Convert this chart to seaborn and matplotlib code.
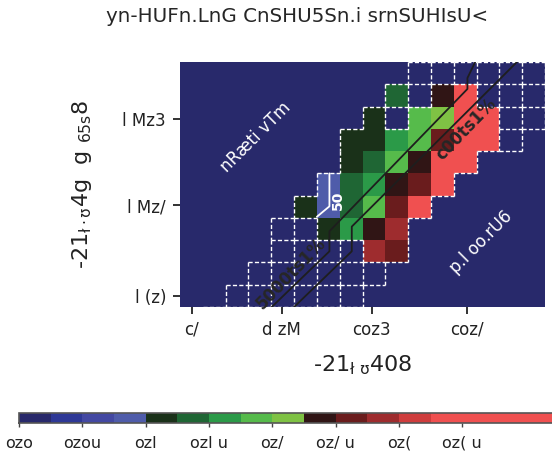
import numpy as np
import pandas as pd
import matplotlib
matplotlib.use("Agg")
import matplotlib.pyplot as plt
import seaborn as sns
from matplotlib.colors import ListedColormap
from matplotlib.collections import LineCollection

sns.set_theme(style="white")
plt.rcParams['font.family'] = ['DejaVu Sans']

# ---------------- texts ----------------
title = "yn-HUFn.LnG CnSHU5Sn.i srnSUHIsU<"
x_label = r"-21$_{\mathrm{ł\ ʊ}}$408"
y_label = r"-21$_{\mathrm{ł\cdotʊ}}$4g  g $_{\mathrm{65s}}$8"
x_tick_labels = ["c/", "d zM", "coz3", "coz/"]
x_tick_pos = [0.51, 4.46, 8.40, 12.56]
y_tick_labels = ["l Mz3", "l Mz/", "l (z)"]
y_tick_pos = [2.54, 6.43, 10.52]
cbar_tick_values = [0.0, 0.05, 0.10, 0.15, 0.20, 0.25, 0.30, 0.35]
cbar_tick_labels = ["ozo", "ozou", "ozl", "ozl u", "oz/", "oz/ u", "oz(", "oz( u"]
region_labels = ["nRæti vTm", "p.l oo.rU6"]
region_label_x = [3.33, 13.2]
region_label_y = [3.36, 8.07]
contour_labels = ["5000ts1%", "c00ts1%"]
contour_label_x = [4.87, 12.54]
contour_label_y = [9.5, 3.0]
white_label = "50"
white_label_x = 6.93
white_label_y = 6.23

# ---------------- colour levels (bins of 0.025) ----------------
level_colors = ["#28296b", "#2e3896", "#4348a2", "#4f5caa",
                "#1a3119", "#1f6634", "#2b9a48", "#56bb4b", "#7fc244",
                "#301515", "#6a1c1d", "#9e2c2e", "#cf3d3d", "#f05050",
                "#f05050", "#f05050", "#f05050", "#f05050"]

# ---------------- cell values (rows top->bottom, 16 columns) ----------------
D = 0.01  # navy cells inside the outlined region
cell_values = [
    [0, 0, 0, 0, 0, 0, 0, 0, 0, 0, D, D, D, D, D, D],
    [0, 0, 0, 0, 0, 0, 0, 0, 0, 0.14, D, 0.24, 0.36, D, D, D],
    [0, 0, 0, 0, 0, 0, 0, 0, 0.11, D, 0.19, 0.21, 0.36, 0.34, D, D],
    [0, 0, 0, 0, 0, 0, 0, 0.11, 0.11, 0.16, 0.19, 0.26, 0.35, 0.37, D, 0],
    [0, 0, 0, 0, 0, 0, 0, 0.11, 0.14, 0.19, 0.24, 0.35, 0.34, 0, 0, 0],
    [0, 0, 0, 0, 0, 0, 0.09, 0.14, 0.16, 0.24, 0.26, 0.36, 0, 0, 0, 0],
    [0, 0, 0, 0, 0, 0.11, 0.09, 0.14, 0.19, 0.26, 0.34, 0, 0, 0, 0, 0],
    [0, 0, 0, 0, D, D, 0.11, 0.16, 0.24, 0.29, 0, 0, 0, 0, 0, 0],
    [0, 0, 0, 0, D, D, D, D, 0.29, 0.26, 0, 0, 0, 0, 0, 0],
    [0, 0, 0, D, D, D, D, D, D, 0, 0, 0, 0, 0, 0, 0],
    [0, 0, D, D, D, D, D, D, 0, 0, 0, 0, 0, 0, 0, 0],
    [0, D, D, D, D, D, D, D, 0, 0, 0, 0, 0, 0, 0, 0],
]
dashed_cells = [[1 if v == D else 0 for v in row] for row in cell_values]

# ---------------- contour paths (cell units) ----------------
line_a_x = [4.02, 6.55, 6.55, 12.6, 12.6, 12.94]
line_a_y = [11.0, 8.5, 7.6, 1.21, 0.72, 0.0]
line_b_x = [5.0, 7.53, 7.53, 14.77]
line_b_y = [11.0, 8.5, 7.39, 0.0]
white_line_x = [6.0, 6.55, 6.55]
white_line_y = [6.95, 6.48, 5.0]

# ---------------- figure ----------------
W, H = 552, 453
fig = plt.figure(figsize=(W / 100, H / 100), dpi=100)
ax = fig.add_axes([180 / W, 1 - 307 / H, 365 / W, 245 / H])
cax = fig.add_axes([19 / W, 1 - 423.3 / H, 570 / W, 10.6 / H])

df = pd.DataFrame(cell_values)
cmap = ListedColormap(level_colors)
sns.heatmap(df, ax=ax, cmap=cmap, vmin=0, vmax=0.45, cbar_ax=cax,
            cbar_kws={"orientation": "horizontal", "ticks": cbar_tick_values},
            xticklabels=False, yticklabels=False)
ax.set_ylim(11, 0)
ax.set_xlim(0, 16)

# dashed outline of the region + dashed boxes
vals = np.array(cell_values, dtype=float)
flags = np.array(dashed_cells, dtype=bool)
region = flags | (vals > 0.025)
nr, nc = vals.shape
edges = set()
for r in range(nr):
    for c in range(nc):
        if not region[r, c]:
            continue
        sides = [((c, r), (c + 1, r), r - 1, c),
                 ((c, r + 1), (c + 1, r + 1), r + 1, c),
                 ((c, r), (c, r + 1), r, c - 1),
                 ((c + 1, r), (c + 1, r + 1), r, c + 1)]
        for p0, p1, rr, cc in sides:
            inside = 0 <= rr < nr and 0 <= cc < nc and region[rr, cc]
            if flags[r, c] or not inside:
                edges.add((p0, p1))
lc = LineCollection(sorted(edges), colors="white", linewidths=1.0,
                    linestyles=[(0, (3, 1.6))])
ax.add_collection(lc)

# contour lines
ax.plot(line_a_x, line_a_y, color="#1e1e1e", lw=1.3)
ax.plot(line_b_x, line_b_y, color="#1e1e1e", lw=1.3)
ax.plot(white_line_x, white_line_y, color="white", lw=1.3)

for t, x, y in zip(region_labels, region_label_x, region_label_y):
    ax.text(x, y, t, color="white", fontsize=12, rotation=45,
            ha="center", va="center", rotation_mode="anchor")
for t, x, y in zip(contour_labels, contour_label_x, contour_label_y):
    ax.text(x, y, t, color="#262626", fontsize=12, fontweight="bold",
            rotation=46, ha="center", va="center", rotation_mode="anchor")
ax.text(white_label_x, white_label_y, white_label, color="white", fontsize=10,
        fontweight="bold", rotation=90, ha="center", va="center")

# ticks
ax.set_xticks(x_tick_pos)
ax.set_xticklabels(x_tick_labels, fontsize=12, color="#222222")
ax.set_yticks(y_tick_pos)
ax.set_yticklabels(y_tick_labels, fontsize=12, color="#222222", rotation=0)
ax.tick_params(axis="both", bottom=True, left=True, length=5, width=1.3,
               color="#222222", pad=5)
for s in ax.spines.values():
    s.set_visible(False)

ax.set_xlabel(x_label, fontsize=16, color="#222222")
ax.xaxis.set_label_coords(0.5, -0.19)
ax.set_ylabel(y_label, fontsize=16, color="#222222")
ax.yaxis.set_label_coords(-0.235, 0.5)

# colorbar
cbar = ax.collections[0].colorbar
cbar.set_ticks(cbar_tick_values)
cbar.set_ticklabels(cbar_tick_labels)
cax.tick_params(axis="x", bottom=True, length=3, width=1, color="#444444",
                labelsize=11.5, labelcolor="#222222", pad=6)
cbar.outline.set_edgecolor("#555555")
cbar.outline.set_linewidth(1.2)

fig.text(297 / W, 1 - 16 / H, title, ha="center", va="center",
         fontsize=14.3, color="#262626")

fig.savefig("out.png", dpi=100)
